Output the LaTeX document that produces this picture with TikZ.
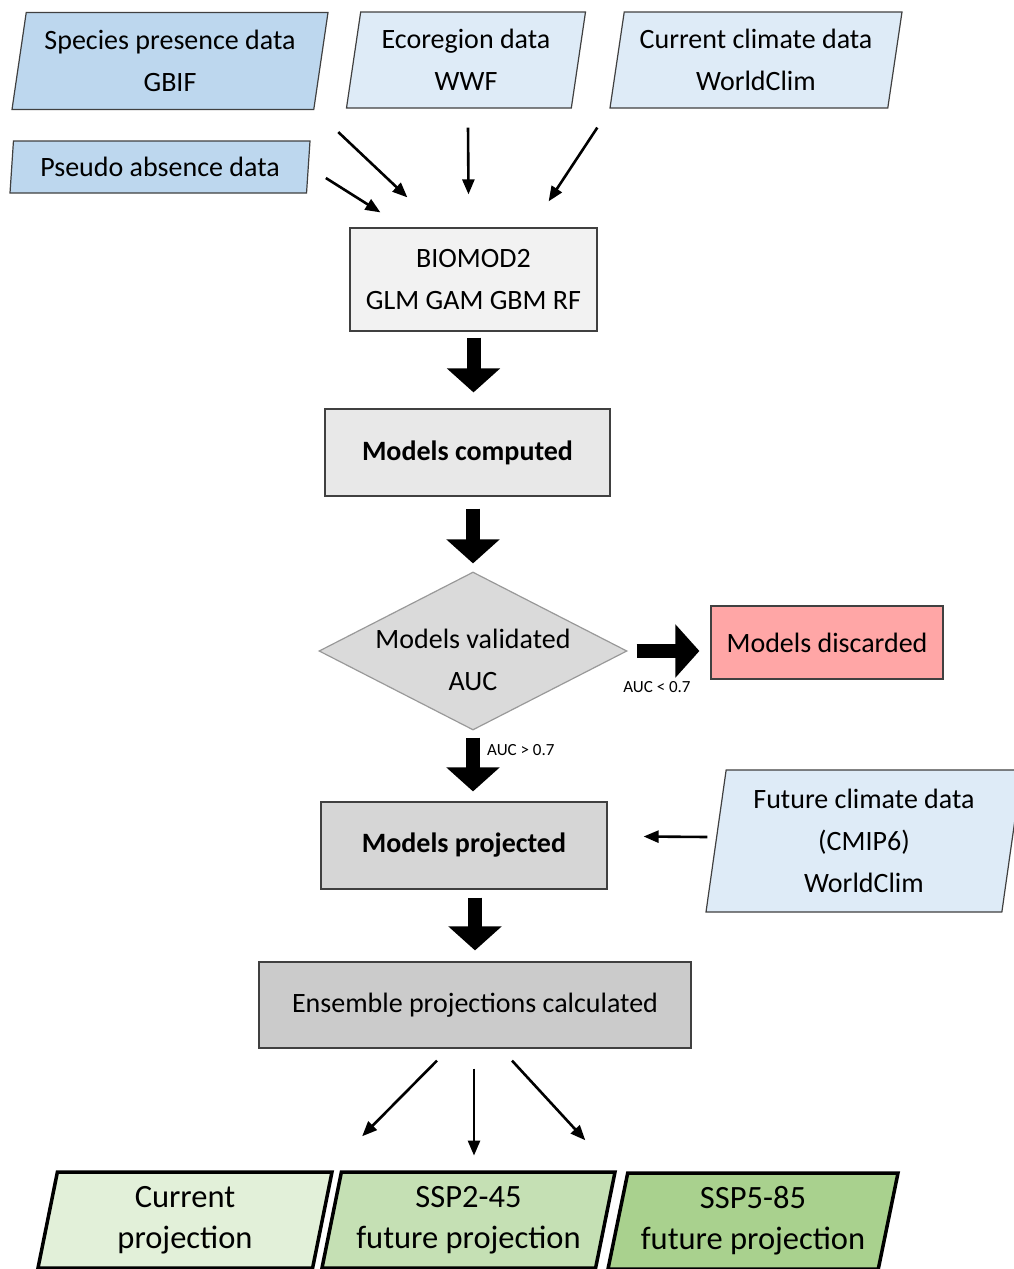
\documentclass[tikz,border=0pt]{standalone}
\usepackage{fontspec}
\setmainfont{Carlito}
\usepackage{xcolor}
\usetikzlibrary{shapes.geometric,arrows.meta,calc}

\definecolor{inblue}{HTML}{BDD7EE}
\definecolor{inpale}{HTML}{DEEBF7}
\definecolor{grayA}{HTML}{F2F2F2}
\definecolor{grayB}{HTML}{E8E8E8}
\definecolor{grayC}{HTML}{DADADA}
\definecolor{grayD}{HTML}{D6D6D6}
\definecolor{grayE}{HTML}{CBCBCB}
\definecolor{dropred}{HTML}{FFA6A6}
\definecolor{greenA}{HTML}{E2F0D9}
\definecolor{greenB}{HTML}{C5E0B4}
\definecolor{greenC}{HTML}{A9D18E}

\begin{document}
\begin{tikzpicture}[x=1pt,y=-1pt,
  box/.style={draw=black!75, line width=1.2pt, inner sep=0pt, align=center,
    font=\fontsize{28}{42}\selectfont},
  data/.style={box, trapezium, trapezium left angle=77, trapezium right angle=103,
    trapezium stretches body},
  proj/.style={data, draw=black, line width=3.5pt, trapezium left angle=74,
    trapezium right angle=106, font=\fontsize{32.5}{41}\selectfont},
  thin/.style={line width=2.6pt, -{Triangle[length=15pt,width=12pt]}},
  fat/.style={line width=14pt, -{Triangle[length=24pt,width=52pt]}},
  small/.style={inner sep=0pt, font=\fontsize{17}{18}\selectfont}]
\clip (0,0) rectangle (1014,1269);

\node[data, fill=inblue, minimum width=316, minimum height=97] (species) at (170,61) {Species presence data\\GBIF};
\node[data, fill=inpale, minimum width=239, minimum height=96] (ecoreg) at (466,60) {Ecoregion data\\WWF};
\node[data, fill=inpale, minimum width=292, minimum height=96] (curclim) at (756,60) {Current climate data\\WorldClim};
\node[data, fill=inblue, minimum width=300, minimum height=52, trapezium left angle=80,
  trapezium right angle=100] (pseudo) at (160,167) {Pseudo absence data};

\node[box, fill=grayA, minimum width=247, minimum height=103] (biomod) at (473.5,279.5) {BIOMOD2\\GLM GAM GBM RF};
\node[box, fill=grayB, minimum width=285, minimum height=87, font=\fontsize{28}{42}\selectfont\bfseries] (computed) at (467.5,452.5) {Models computed};
\node[box, draw=black!40, fill=grayC, shape=diamond, inner xsep=-60pt, inner ysep=-25pt,
  minimum width=308, minimum height=158] (valid) at (473,651) {\rule{0pt}{37pt}Models validated\\AUC};
\node[box, fill=dropred, minimum width=232, minimum height=73] (discard) at (827,642.5) {Models discarded};
\node[box, fill=grayD, minimum width=286, minimum height=87, font=\fontsize{28}{42}\selectfont\bfseries] (projected) at (464,845.5) {Models projected};
\node[data, fill=inpale, minimum width=316, minimum height=142, trapezium left angle=79,
  trapezium right angle=101] (futclim) at (864,841) {Future climate data\\(CMIP6)\\WorldClim};
\node[box, fill=grayE, minimum width=432, minimum height=86] (ensemble) at (475,1005) {Ensemble projections calculated};

\node[proj, fill=greenA, minimum width=294, minimum height=96] (curproj) at (185,1220) {Current\\projection};
\node[proj, fill=greenB, minimum width=293, minimum height=96] (sspA) at (468.5,1220) {SSP2-45\\future projection};
\node[proj, fill=greenC, minimum width=290, minimum height=96] (sspB) at (753,1221) {SSP5-85\\future projection};

\draw[thin] ($(species.bottom right corner)+(24,22)$) -- ($(biomod.north west)+(58,-30)$);
\draw[thin] ($(pseudo.east)+(17,11)$) -- ($(biomod.north west)+(31,-15)$);
\draw[thin] ($(ecoreg.south)+(2,19)$) -- ($(biomod.north)+(-5,-33)$);
\draw[thin] ($(curclim.bottom left corner)+(-12,19)$) -- ($(biomod.north east)+(-49,-26)$);

\draw[fat, shorten <=6pt, shorten >=16pt] (biomod.south) -- (biomod.south |- computed.north);
\draw[fat, shorten <=12pt, shorten >=8pt] (valid.north |- computed.south) -- (valid.north);
\draw[fat, shorten <=9pt, shorten >=11pt] (valid.east) -- (discard.west |- valid.east);
\draw[fat, shorten <=7pt, shorten >=10pt] (valid.south) -- (valid.south |- projected.north);
\draw[fat, shorten <=8pt, shorten >=11pt] (ensemble.north |- projected.south) -- (ensemble.north);
\node[small] (lowauc) at (657,687) {AUC < 0.7};
\node[small, anchor=west] (highauc) at (487,750) {AUC > 0.7};

\draw[thin] ($(futclim.west)+(-8,-4)$) -- ($(projected.east)+(36,-9)$);

\draw[thin] ($(ensemble.south)+(-38,12)$) -- ($(curproj.top right corner)+(28,-34)$);
\draw[thin] ($(ensemble.south)+(-1,20)$) -- ($(ensemble.south)+(-1,107)$);
\draw[thin] ($(ensemble.south)+(37,12)$) -- ($(sspB.top left corner)+(-41,-31)$);
\end{tikzpicture}
\end{document}
